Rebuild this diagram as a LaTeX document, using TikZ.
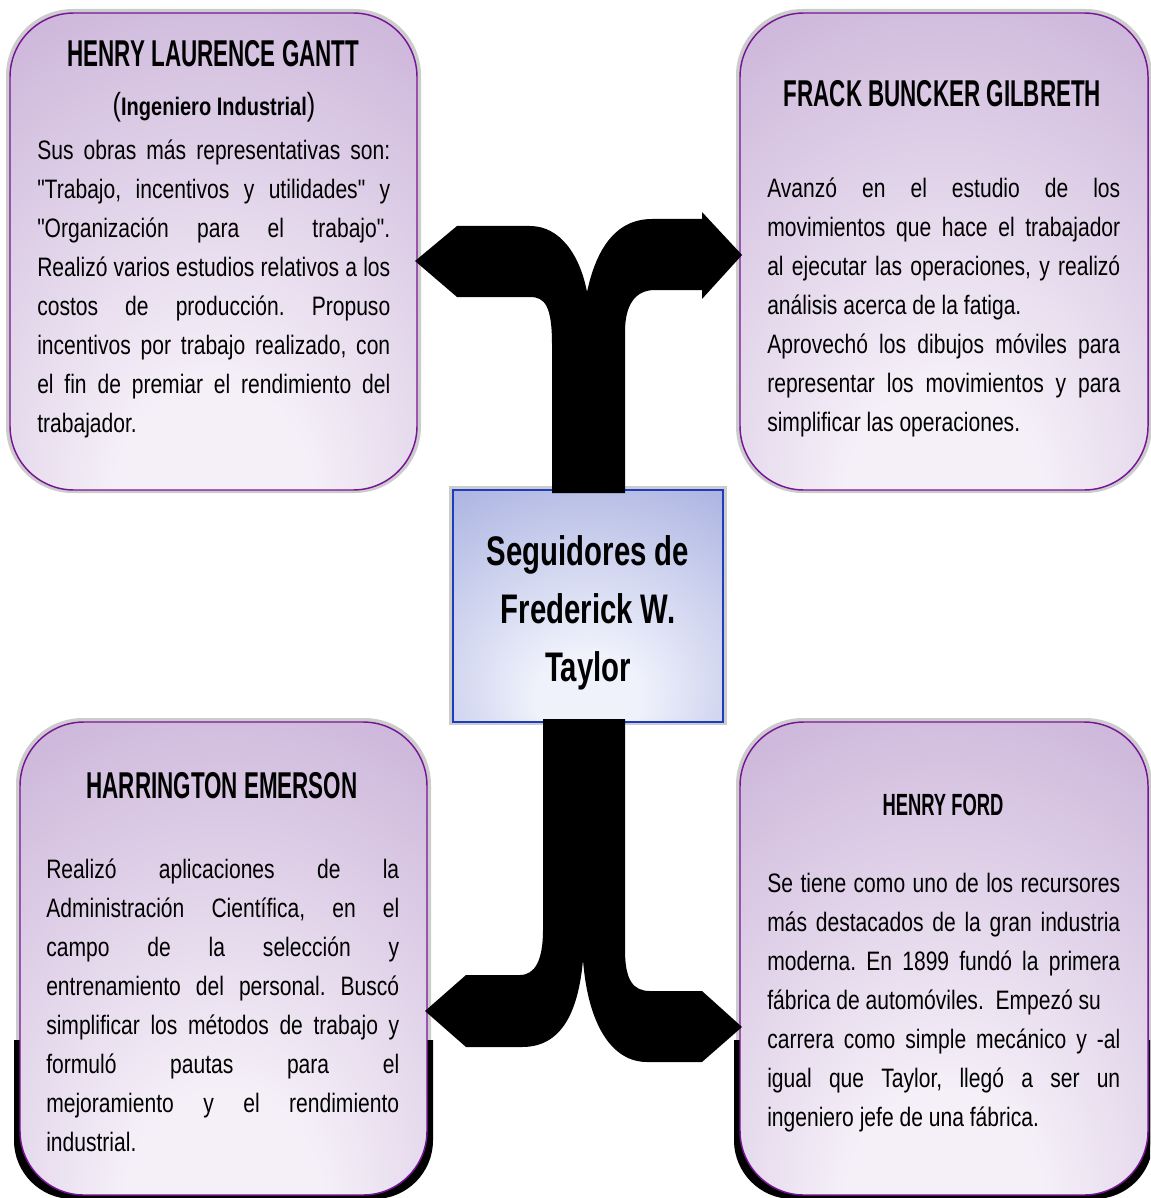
\documentclass[tikz,border=0pt]{standalone}
\usepackage{fontspec}
\newfontfamily\fontCorps{Liberation Sans}[FakeStretch=0.79]
\newfontfamily\fontTitre{Liberation Sans}[FakeStretch=0.6]
\newfontfamily\fontCentre{Liberation Sans}[FakeStretch=0.71]
\usetikzlibrary{fit}
\definecolor{violetF}{RGB}{188,158,206}
\definecolor{violetC}{RGB}{245,240,248}
\definecolor{violetB}{RGB}{120,20,150}
\definecolor{bleuF}{RGB}{142,152,214}
\definecolor{bleuC}{RGB}{239,241,251}
\definecolor{bleuB}{RGB}{30,60,190}
\pgfdeclareradialshading{lueurviolet}{\pgfpoint{0bp}{-30bp}}{color(0bp)=(violetC); color(12bp)=(violetC); color(60bp)=(violetF); color(95bp)=(violetF)}
\pgfdeclareradialshading{lueurbleu}{\pgfpoint{0bp}{-22bp}}{color(0bp)=(bleuC); color(10bp)=(bleuC); color(60bp)=(bleuF); color(95bp)=(bleuF)}
\tikzset{
	cadre/.style={draw=violetB,line width=1.1pt,rounded corners=48pt,shading=lueurviolet,inner sep=0pt},
	boite/.style={draw=bleuB,line width=1.3pt,shading=lueurbleu,inner sep=0pt},
	halo/.style={fill=black!20,rounded corners=50pt},
	titre/.style={font=\fontTitre\bfseries\fontsize{28}{28}\selectfont,inner sep=0pt,anchor=base},
	texte/.style={font=\fontCorps\fontsize{20}{29.25}\selectfont,text width=264.75pt,align=justify,inner sep=0pt,anchor=north west}
}
\parindent=0pt
\frenchspacing
\hyphenpenalty=10000
\exhyphenpenalty=10000
\tolerance=10000
\hbadness=10000
\hfuzz=20pt
\begin{document}
\begin{tikzpicture}[x=0.75pt,y=-0.75pt]
	\useasboundingbox (0,0) rectangle (1150,1198);
	% ombres
	\fill[halo] (6,9) rectangle (421,493);
	\fill[halo] (736,9) rectangle (1152,493);
	\fill[halo] (16,718) rectangle (431,1198);
	\fill[halo] (736,718) rectangle (1152,1198);
	\fill[black!20] (449,486) rectangle (727,725);
	\begin{scope}
		\clip (0,1040) rectangle (1150,1198);
		\fill[black,rounded corners=44pt] (14,722) rectangle (433,1199);
		\fill[black,rounded corners=44pt] (734,722) rectangle (1153,1199);
	\end{scope}
	% les cadres
	\node[cadre,fit={(10,13) (417,490)}] (gantt) {};
	\node[cadre,fit={(740,13) (1148,490)}] (gilbreth) {};
	\node[cadre,fit={(20,722) (427,1195)}] (emerson) {};
	\node[cadre,fit={(740,722) (1148,1195)}] (ford) {};
	\node[boite,fit={(453,490) (723,722)}] (taylor) {};
	% les fleches
	\fill (552,493) -- (552,345) .. controls (552,306) and (545,297) .. (530,297) -- (457,297) -- (415,261) -- (457,226) -- (530,226) .. controls (560,226) and (580,255) .. (587,292) .. controls (596,250) and (615,219) .. (652,219) -- (702,219) -- (702,212) -- (742,255) -- (702,299) -- (702,290) -- (655,290) .. controls (635,290) and (625,305) .. (625,332) -- (625,493) -- cycle;
	\fill (543,719) -- (625,719) -- (625,950) .. controls (625,980) and (633,991) .. (650,991) -- (702,991) -- (742,1027) -- (702,1062) -- (647,1062) .. controls (612,1062) and (588,1025) .. (583,960) .. controls (578,1015) and (560,1047) .. (522,1047) -- (466,1047) -- (425,1011) -- (466,975) -- (520,975) .. controls (535,975) and (543,960) .. (543,930) -- cycle;
	% le centre
	\node[anchor=north,align=center,inner sep=0pt,font=\fontCentre\bfseries\fontsize{31}{43.5}\selectfont] (ttaylor) at (588,524.4) {\strut Seguidores de\\Frederick W.\\Taylor};
	% Gantt
	\node[titre] (tgantt) at (213.5,67) {HENRY LAURENCE GANTT};
	\node[anchor=base,inner sep=0pt] (sgantt) at (214,116) {\fontCorps\fontsize{24}{24}\selectfont(\bfseries\fontsize{19}{19}\selectfont Ingeniero Industrial\mdseries\fontsize{24}{24}\selectfont)};
	\node[texte] (cgantt) at (37,131.7) {\strut Sus obras más representativas son:\linebreak "Trabajo, incentivos y utilidades" y\linebreak "Organización para el trabajo".\linebreak Realizó varios estudios relativos a los\linebreak costos de producción. Propuso\linebreak incentivos por trabajo realizado, con\linebreak el fin de premiar el rendimiento del\linebreak trabajador.};
	% Gilbreth
	\node[titre] (tgilbreth) at (942.5,107) {FRACK BUNCKER GILBRETH};
	\node[texte] (cgilbreth) at (767,169.7) {\strut Avanzó en el estudio de los\linebreak movimientos que hace el trabajador\linebreak al ejecutar las operaciones, y realizó\linebreak análisis acerca de la fatiga.\newline Aprovechó los dibujos móviles para\linebreak representar los movimientos y para\linebreak simplificar las operaciones.};
	% Emerson
	\node[titre] (temerson) at (222,798) {HARRINGTON EMERSON};
	\node[texte] (cemerson) at (46,850.7) {\strut Realizó aplicaciones de la\linebreak Administración Científica, en el\linebreak campo de la selección y\linebreak entrenamiento del personal. Buscó\linebreak simplificar los métodos de trabajo y\linebreak formuló pautas para el\linebreak mejoramiento y el rendimiento\linebreak industrial.};
	% Ford
	\node[titre,font=\fontTitre\bfseries\fontsize{23}{23}\selectfont] (tford) at (943,815) {HENRY FORD};
	\node[texte] (cford) at (767,864.7) {\strut Se tiene como uno de los recursores\linebreak más destacados de la gran industria\linebreak moderna. En 1899 fundó la primera\linebreak fábrica de automóviles.\ \ Empezó su\newline carrera como simple mecánico y -al\linebreak igual que Taylor, llegó a ser un\linebreak ingeniero jefe de una fábrica.};
\end{tikzpicture}
\end{document}
